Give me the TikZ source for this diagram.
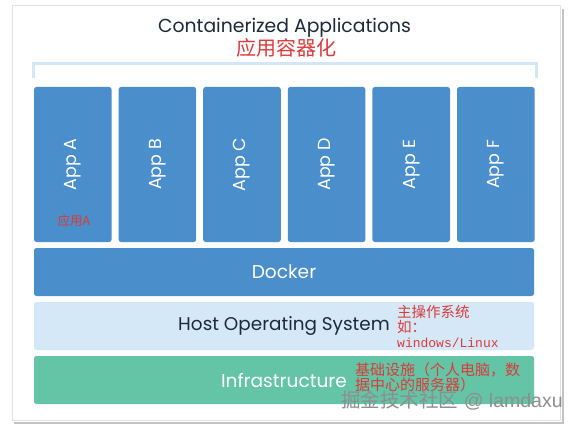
\documentclass[tikz,border=0pt]{standalone}
\usepackage{fontspec}
\setmainfont{Poppins}
\newfontfamily\cjk{Noto Sans CJK SC}
\newfontfamily\monof{Liberation Mono}
\newfontfamily\wmfont{Liberation Sans}
\definecolor{appblue}{HTML}{4A8ECB}
\definecolor{hostblue}{HTML}{D4E8F8}
\definecolor{infragreen}{HTML}{63C4A6}
\definecolor{bracketblue}{HTML}{D3E8F6}
\definecolor{redtxt}{HTML}{DC3A3A}
\definecolor{titlecol}{HTML}{1E2A3A}
\definecolor{framegray}{HTML}{E2E2E2}
\definecolor{shadowgray}{HTML}{C4C4C4}
\definecolor{wmgray}{HTML}{8E8E8E}
\tikzset{
  layerbox/.style={rectangle, rounded corners=2.5pt, minimum width=500pt, minimum height=48pt, inner sep=0pt},
  appbox/.style={rectangle, rounded corners=2.5pt, fill=appblue, minimum width=155pt, minimum height=77.6pt, inner sep=0pt, rotate=90, text=white, font=\fontsize{17.5}{20}\selectfont},
  rednote/.style={text=redtxt, inner sep=0pt, align=left},
}
\begin{document}
\begin{tikzpicture}[x=1pt,y=-1pt]
\useasboundingbox (0,0) rectangle (578,425);
\fill[white] (0,0) rectangle (578,425);
% frame and shadow
\draw[shadowgray, line width=2.5pt] (563,9) -- (563,423) -- (14,423);
\draw[framegray, line width=1pt] (12,6) rectangle (560,420);
% title
\node[anchor=base, inner sep=0pt, text=titlecol, font=\fontsize{18.8}{22}\selectfont] (title) at (284.5,32.5) {Containerized Applications};
\node[inner sep=0pt, text=redtxt, font=\cjk\fontsize{20}{22}\selectfont] (titlecn) at (286,48) {应用容器化};
% bracket
\draw[bracketblue, line width=3pt] (33,78) -- (33,64) -- (536,64) -- (536,78);
% apps
\foreach \i/\l in {0/A,1/B,2/C,3/D,4/E,5/F}{
  \node[appbox] (app\l) at ({34+84.6*\i+38.8},164.5) {App \l};
}
\node[rednote, font=\cjk\fontsize{12.5}{14}\selectfont] (appAcn) at (74,221) {应用A};
% layers
\node[layerbox, fill=appblue, text=white, font=\fontsize{18.6}{22}\selectfont] (docker) at (284,272) {Docker};
\node[layerbox, fill=hostblue, text=titlecol, font=\fontsize{18.4}{20}\selectfont] (host) at (284,326) {Host Operating System};
\node[layerbox, fill=infragreen, text=white, font=\fontsize{18.6}{20}\selectfont] (infra) at (284,380) {Infrastructure};
% notes
\node[rednote, anchor=north west, font=\cjk\fontsize{14.5}{15}\selectfont] (hostcn) at (397,305) {主操作系统\\如：\\{\monof\fontsize{13}{15}\selectfont windows/Linux}};
\node[rednote, anchor=north west, font=\cjk\fontsize{15}{13.5}\selectfont] (infracn) at (355,362) {基础设施（个人电脑，数\\据中心的服务器）};
% watermark
\node[inner sep=0pt, text=wmgray, font=\wmfont\fontsize{19.5}{22}\selectfont] (wm) at (452,401) {{\cjk 掘金技术社区} @ lamdaxu};
\end{tikzpicture}
\end{document}
